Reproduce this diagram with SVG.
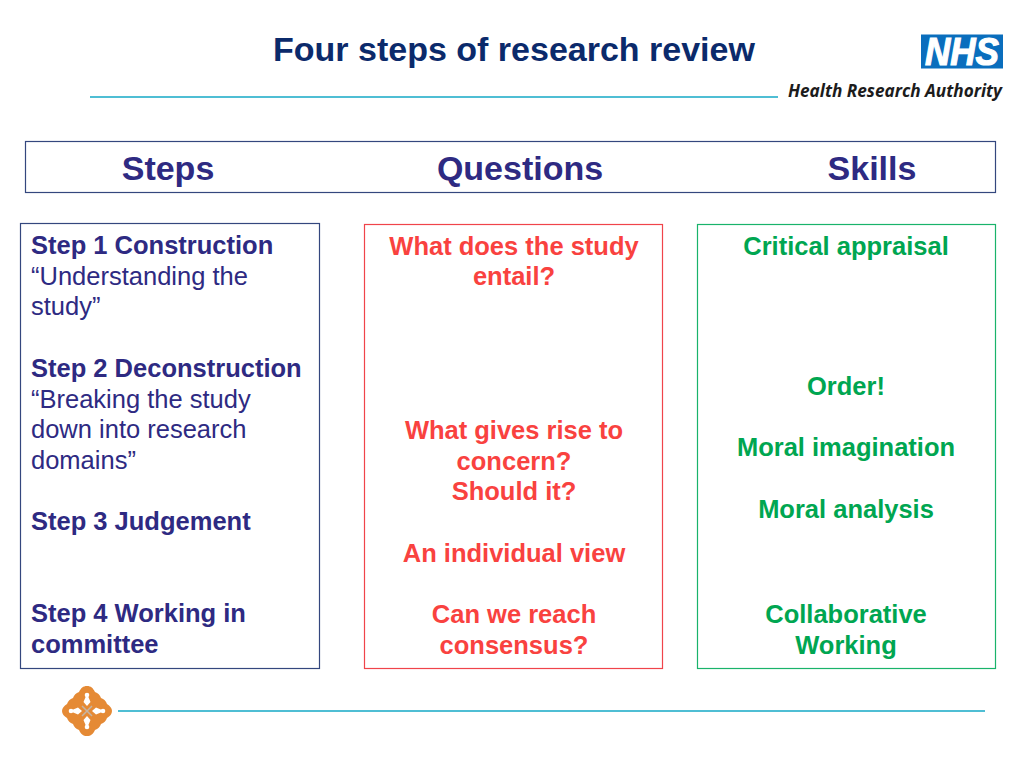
<svg xmlns="http://www.w3.org/2000/svg" width="1024" height="768" viewBox="0 0 1024 768">
<style>
text{font-family:"Liberation Sans",Arial,sans-serif}
.b{font-weight:700}
.h{font-size:34px;font-weight:700;fill:#2e2a82;text-anchor:middle}
.s{font-size:25.500px;fill:#2e2a82}
.q{font-size:25.500px;font-weight:700;fill:#f9423f;text-anchor:middle}
.k{font-size:25.500px;font-weight:700;fill:#00a651;text-anchor:middle}
.rule{stroke:#14a9c6;stroke-width:1.500;fill:none}
</style>
<rect width="1024" height="768" fill="#fff"/>
<g id="title"><text x="514" y="61" text-anchor="middle" class="b" font-size="34" fill="#0b2a6b">Four steps of research review</text></g>
<g id="connectors">
<line class="rule" x1="90" y1="97" x2="778" y2="97"/>
<line class="rule" x1="118" y1="711" x2="985" y2="711"/>
</g>
<g id="nhs-logo">
<rect x="921" y="34.500" width="82" height="34" fill="#0a6ebd"/>
<text x="962" y="65" text-anchor="middle" font-size="38" font-weight="700" font-style="italic" fill="#fff" stroke="#fff" stroke-width="1.200" textLength="74" lengthAdjust="spacingAndGlyphs">NHS</text>
<text x="788" y="97" font-size="17" font-weight="700" font-style="italic" fill="#1c1c1c" style="font-family:'Open Sans','Liberation Sans',sans-serif" textLength="214" lengthAdjust="spacingAndGlyphs">Health Research Authority</text>
</g>
<g id="header">
<rect x="25.500" y="141.500" width="970" height="51" fill="#fff" stroke="#34477e" stroke-width="1.2"/>
<text class="h" x="168" y="180">Steps</text>
<text class="h" x="520" y="180">Questions</text>
<text class="h" x="872" y="180">Skills</text>
</g>
<g id="steps">
<rect x="20.500" y="223.500" width="299" height="445" fill="#fff" stroke="#34477e" stroke-width="1.2"/>
<text class="s b" x="31" y="254">Step 1 Construction</text>
<text class="s" x="31" y="285">“Understanding the</text>
<text class="s" x="31" y="315">study”</text>
<text class="s b" x="31" y="377">Step 2 Deconstruction</text>
<text class="s" x="31" y="408">“Breaking the study</text>
<text class="s" x="31" y="438">down into research</text>
<text class="s" x="31" y="469">domains”</text>
<text class="s b" x="31" y="530">Step 3 Judgement</text>
<text class="s b" x="31" y="622">Step 4 Working in</text>
<text class="s b" x="31" y="653">committee</text>
</g>
<g id="questions">
<rect x="364.500" y="224.500" width="298" height="444" fill="#fff" stroke="#f0444a" stroke-width="1.2"/>
<text class="q" x="514" y="255">What does the study</text>
<text class="q" x="514" y="285">entail?</text>
<text class="q" x="514" y="439">What gives rise to</text>
<text class="q" x="514" y="470">concern?</text>
<text class="q" x="514" y="500">Should it?</text>
<text class="q" x="514" y="562">An individual view</text>
<text class="q" x="514" y="623">Can we reach</text>
<text class="q" x="514" y="654">consensus?</text>
</g>
<g id="skills">
<rect x="697.500" y="224.500" width="298" height="444" fill="#fff" stroke="#19b36b" stroke-width="1.2"/>
<text class="k" x="846" y="255">Critical appraisal</text>
<text class="k" x="846" y="395">Order!</text>
<text class="k" x="846" y="456">Moral imagination</text>
<text class="k" x="846" y="518">Moral analysis</text>
<text class="k" x="846" y="623">Collaborative</text>
<text class="k" x="846" y="654">Working</text>
</g>
<g id="emblem">
<path d="M87 686 C91 686 93 688 95 692 C98 693 100 695 101 698 C104 699 106 701 107 704 C110 706 112 708 112 711 C112 714 110 716 107 718 C106 721 104 723 101 724 C100 727 98 729 95 730 C93 734 91 736 87 736 C83 736 81 734 79 730 C76 729 74 727 73 724 C70 723 68 721 67 718 C64 716 62 714 62 711 C62 708 64 706 67 704 C68 701 70 699 73 698 C74 695 76 693 79 692 C81 688 83 686 87 686Z" fill="#e58a35"/>
<g fill="#fff">
<circle cx="87" cy="695" r="2.300"/><path d="M86 696h2l2.500 6-3.500 4-3.500-4z"/>
<circle cx="87" cy="727" r="2.300"/><path d="M86 726h2l2.500-6-3.500-4-3.500 4z"/>
<circle cx="71" cy="711" r="2.300"/><path d="M72 710v2l6 2.500 4-3.500-4-3.500z"/>
<circle cx="103" cy="711" r="2.300"/><path d="M102 710v2l-6 2.500-4-3.500 4-3.500z"/>
</g>
<path d="M82 706L92 716M92 706L82 716" stroke="#c4b5a5" stroke-width="1.500"/>
</g>
</svg>
